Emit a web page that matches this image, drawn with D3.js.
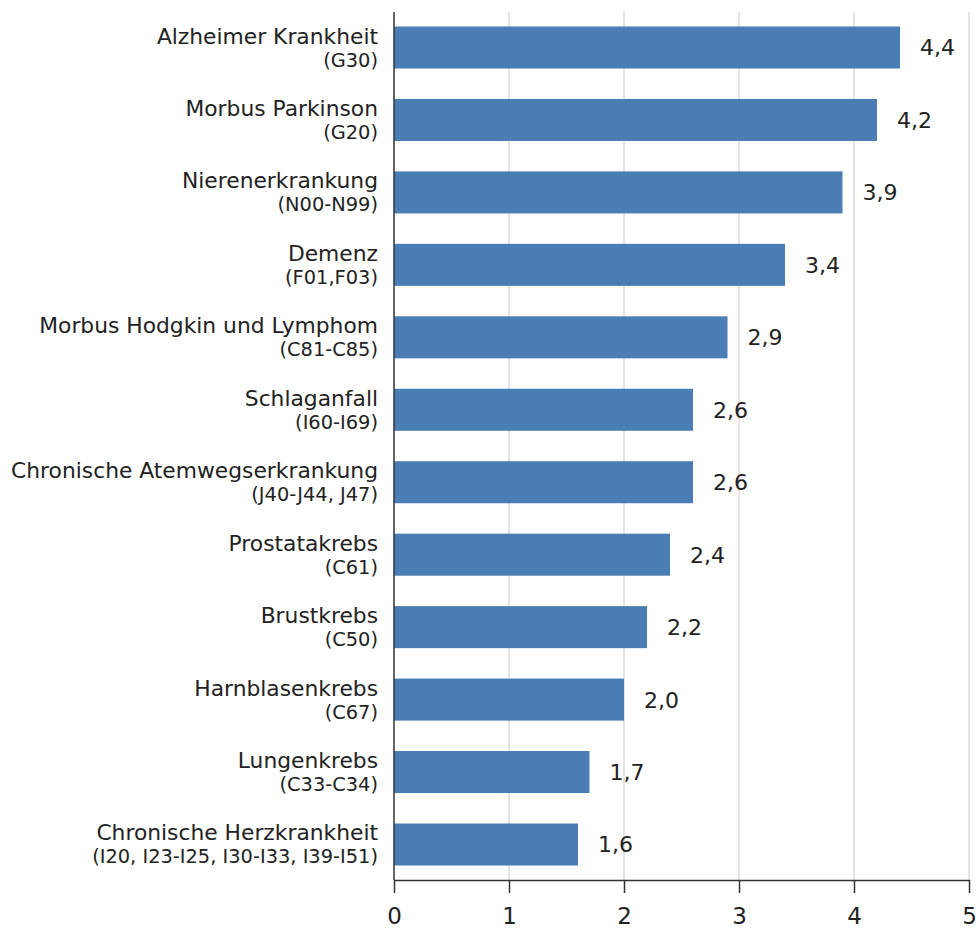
<!DOCTYPE html>
<html>
<head>
<meta charset="utf-8">
<script src="https://cdn.jsdelivr.net/npm/d3@7"></script>
<style>
  body { margin: 0; background: #fff; }
  svg { font-family: "DejaVu Sans", sans-serif; }
</style>
</head>
<body>
<div id="chart"></div>
<script>
const diseaseNames = [
    "Alzheimer Krankheit", "Morbus Parkinson", "Nierenerkrankung", "Demenz",
    "Morbus Hodgkin und Lymphom", "Schlaganfall", "Chronische Atemwegserkrankung",
    "Prostatakrebs", "Brustkrebs", "Harnblasenkrebs", "Lungenkrebs",
    "Chronische Herzkrankheit"
];
const icdCodes = [
    "(G30)", "(G20)", "(N00-N99)", "(F01,F03)", "(C81-C85)", "(I60-I69)",
    "(J40-J44, J47)", "(C61)", "(C50)", "(C67)", "(C33-C34)",
    "(I20, I23-I25, I30-I33, I39-I51)"
];
const values = [4.4, 4.2, 3.9, 3.4, 2.9, 2.6, 2.6, 2.4, 2.2, 2.0, 1.7, 1.6];
const xTicks = [0, 1, 2, 3, 4, 5];

const width = 980, height = 931;
const margin = {top: 12, right: 11, bottom: 51, left: 394};

const svg = d3.select("#chart").append("svg")
    .attr("width", width)
    .attr("height", height);

const x = d3.scaleLinear().domain([0, 5]).range([margin.left, width - margin.right]);
const y = d3.scaleBand()
    .domain(diseaseNames)
    .range([margin.top, height - margin.bottom])
    .paddingInner(0.42)
    .paddingOuter(0.2);

// grid lines
svg.append("g")
    .selectAll("line")
    .data(xTicks.filter(d => d > 0))
    .join("line")
    .attr("x1", d => x(d))
    .attr("x2", d => x(d))
    .attr("y1", margin.top)
    .attr("y2", height - margin.bottom)
    .attr("stroke", "#c8c8c8")
    .attr("stroke-width", 1);

// bars
svg.append("g")
    .selectAll("rect")
    .data(values)
    .join("rect")
    .attr("x", x(0))
    .attr("y", (d, i) => y(diseaseNames[i]))
    .attr("width", d => x(d) - x(0))
    .attr("height", y.bandwidth())
    .attr("fill", "#4a7db4");

// value labels
svg.append("g")
    .selectAll("text")
    .data(values)
    .join("text")
    .attr("x", d => x(d) + 20)
    .attr("y", (d, i) => y(diseaseNames[i]) + y.bandwidth() / 2)
    .attr("dy", "0.36em")
    .attr("font-size", 22)
    .attr("fill", "#222")
    .text(d => d.toFixed(1).replace(".", ","));

// category labels, two lines
const labels = svg.append("g")
    .selectAll("g")
    .data(diseaseNames)
    .join("g")
    .attr("transform", d => "translate(" + (margin.left - 16) + "," + (y(d) + y.bandwidth() / 2) + ")");

labels.append("text")
    .attr("text-anchor", "end")
    .attr("y", -4)
    .attr("font-size", 21.8)
    .attr("fill", "#222")
    .text(d => d);

labels.append("text")
    .attr("text-anchor", "end")
    .attr("y", 19)
    .attr("font-size", 19.4)
    .attr("fill", "#222")
    .text((d, i) => icdCodes[i]);

// x axis
const xAxis = svg.append("g")
    .attr("transform", "translate(0," + (height - margin.bottom) + ")")
    .call(d3.axisBottom(x).tickValues(xTicks).tickSize(13).tickPadding(15).tickSizeOuter(0).tickFormat(d3.format("d")));
xAxis.select(".domain").attr("stroke", "#333").attr("stroke-width", 1.5);
xAxis.selectAll(".tick line").attr("stroke", "#333").attr("stroke-width", 1.5);
xAxis.selectAll(".tick text")
    .attr("font-family", "'DejaVu Sans', sans-serif")
    .attr("font-size", 23)
    .attr("fill", "#222");

// y axis line
svg.append("line")
    .attr("x1", x(0))
    .attr("x2", x(0))
    .attr("y1", margin.top)
    .attr("y2", height - margin.bottom)
    .attr("stroke", "#333")
    .attr("stroke-width", 1.5);
</script>
</body>
</html>
